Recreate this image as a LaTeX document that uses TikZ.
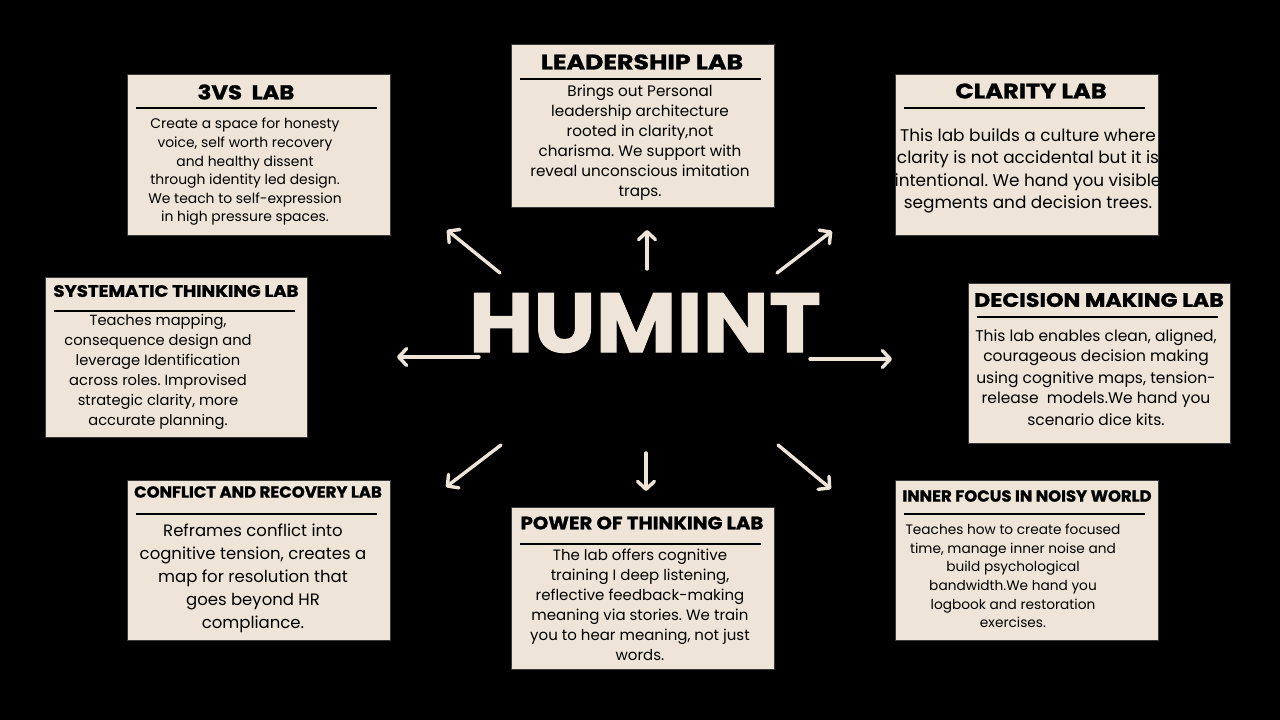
\documentclass[tikz,border=0pt]{standalone}
\usepackage{fontspec}
\setmainfont{Poppins}
\newfontfamily\heavy{Poppins}[BoldFeatures={FakeBold=1.2}]
\usetikzlibrary{arrows.meta}
\definecolor{beige}{HTML}{EEE4D8}
\definecolor{edgegray}{HTML}{3A3A3A}
\tikzset{
  labbox/.style={draw=edgegray, line width=1.2pt, fill=beige, inner sep=0pt, anchor=north west},
  ttl/.style={text=black, inner sep=0pt, anchor=center},
  body/.style={align=center, inner sep=0pt, anchor=north, text=black},
  rulebar/.style={line width=2.2pt, black},
  arr/.style={draw=beige, line width=3.4pt, line cap=round,
    -{Straight Barb[length=8pt,width=17pt,line cap=round,line join=round]}},
}
\newcommand{\fs}[2]{\fontsize{#1}{#2}\selectfont}
\newcommand{\labttl}[2]{\scalebox{#1}[1]{\heavy\bfseries #2}}
\begin{document}
\frenchspacing
\begin{tikzpicture}[x=1pt,y=-1pt]
\fill[black] (0,0) rectangle (1280,720);
\useasboundingbox (0,0) rectangle (1280,720);

% boxes
\node[labbox, minimum width=263pt, minimum height=161pt] (b1) at (127,74) {};
\node[labbox, minimum width=263pt, minimum height=163pt] (b2) at (511,44) {};
\node[labbox, minimum width=263pt, minimum height=161pt] (b3) at (895,74) {};
\node[labbox, minimum width=262pt, minimum height=160pt] (b4) at (45,277) {};
\node[labbox, minimum width=262pt, minimum height=160pt] (b5) at (968,283) {};
\node[labbox, minimum width=263pt, minimum height=160pt] (b6) at (127,480) {};
\node[labbox, minimum width=263pt, minimum height=162pt] (b7) at (511,507) {};
\node[labbox, minimum width=263pt, minimum height=160pt] (b8) at (895,480) {};

% 3VS LAB
\node[ttl, font=\fs{20}{24}] (t1) at (246,92) {\labttl{1.14}{3VS\ \ LAB}};
\draw[rulebar] (136,108) -- (377,108);
\node[body, font=\fs{13.9}{18.6}] (d1) at (245,118) {Create a space for honesty\\voice, self worth recovery\\and healthy dissent\\through identity led design.\\We teach to self-expression\\in high pressure spaces.};

% LEADERSHIP LAB
\node[ttl, font=\fs{21}{25}] (t2) at (642,62) {\labttl{1.2}{LEADERSHIP LAB}};
\draw[rulebar] (520,79) -- (761,79);
\node[body, font=\fs{15.2}{20}] (d2) at (640,85) {Brings out Personal\\leadership architecture\\rooted in clarity,not\\charisma. We support with\\reveal unconscious imitation\\traps.};

% CLARITY LAB
\node[ttl, font=\fs{21}{25}] (t3) at (1031,91) {\labttl{1.15}{CLARITY LAB}};
\draw[rulebar] (904,108) -- (1145,108);
\begin{scope}
\clip (b3.north west) rectangle (b3.south east);
\node[body, font=\fs{16.9}{22.5}] (d3) at (1028,128) {This lab builds a culture where\\clarity is not accidental but it is\\intentional. We hand you visible\\segments and decision trees.};
\end{scope}

% SYSTEMATIC THINKING LAB
\node[ttl, font=\fs{16.5}{20}] (t4) at (176,291) {\labttl{1.1}{SYSTEMATIC THINKING LAB}};
\draw[rulebar] (54,311) -- (295,311);
\node[body, font=\fs{14.7}{20}] (d4) at (158,314) {Teaches mapping,\\consequence design and\\leverage Identification\\across roles. Improvised\\strategic clarity, more\\accurate planning.};

% DECISION MAKING LAB
\node[ttl, font=\fs{19.5}{23}] (t5) at (1099,300) {\labttl{1.14}{DECISION MAKING LAB}};
\draw[rulebar] (977,317) -- (1218,317);
\node[body, font=\fs{15.5}{21}] (d5) at (1096,329) {This lab enables clean, aligned,\\courageous decision making\\using cognitive maps, tension-\\release\ \ models.We hand you\\scenario dice kits.};

% CONFLICT AND RECOVERY LAB
\node[ttl, font=\fs{16}{20}] (t6) at (258,492) {\labttl{1.03}{CONFLICT AND RECOVERY LAB}};
\draw[rulebar] (136,514) -- (377,514);
\node[body, font=\fs{16.5}{22.8}] (d6) at (253,524) {Reframes conflict into\\cognitive tension, creates a\\map for resolution that\\goes beyond HR\\compliance.};

% POWER OF THINKING LAB
\node[ttl, font=\fs{18}{22}] (t7) at (642,523) {\labttl{1.09}{POWER OF THINKING LAB}};
\draw[rulebar] (520,544) -- (761,544);
\node[body, font=\fs{15}{20}] (d7) at (640,549) {The lab offers cognitive\\training I deep listening,\\reflective feedback-making\\meaning via stories. We train\\you to hear meaning, not just\\words.};

% INNER FOCUS IN NOISY WORLD
\node[ttl, font=\fs{16}{20}] (t8) at (1027,496) {\labttl{1.03}{INNER FOCUS IN NOISY WORLD}};
\draw[rulebar] (904,514) -- (1145,514);
\node[body, font=\fs{13.7}{18.6}] (d8) at (1013,524) {Teaches how to create focused\\time, manage inner noise and\\build psychological\\bandwidth.We hand you\\logbook and restoration\\exercises.};

% centre
\node[text=beige, inner sep=0pt, font=\fs{84}{90}] (hum) at (645,323) {\labttl{1.05}{HUMINT}};

% arrow end points
\coordinate (ulS) at (500,273); \coordinate (ulE) at (447,230);
\coordinate (upS) at (647,269); \coordinate (upE) at (647,230);
\coordinate (urS) at (777,273); \coordinate (urE) at (832,231);
\coordinate (lfS) at (479,357); \coordinate (lfE) at (397,357);
\coordinate (rtS) at (810,359); \coordinate (rtE) at (892,359);
\coordinate (llS) at (501,445); \coordinate (llE) at (446,487);
\coordinate (dnS) at (646,453); \coordinate (dnE) at (646,491);
\coordinate (lrS) at (778,445); \coordinate (lrE) at (831,489);

\draw[arr] (ulS) -- (ulE);
\draw[arr] (upS) -- (upE);
\draw[arr] (urS) -- (urE);
\draw[arr] (lfS) -- (lfE);
\draw[arr] (rtS) -- (rtE);
\draw[arr] (llS) -- (llE);
\draw[arr] (dnS) -- (dnE);
\draw[arr] (lrS) -- (lrE);
\end{tikzpicture}
\end{document}
